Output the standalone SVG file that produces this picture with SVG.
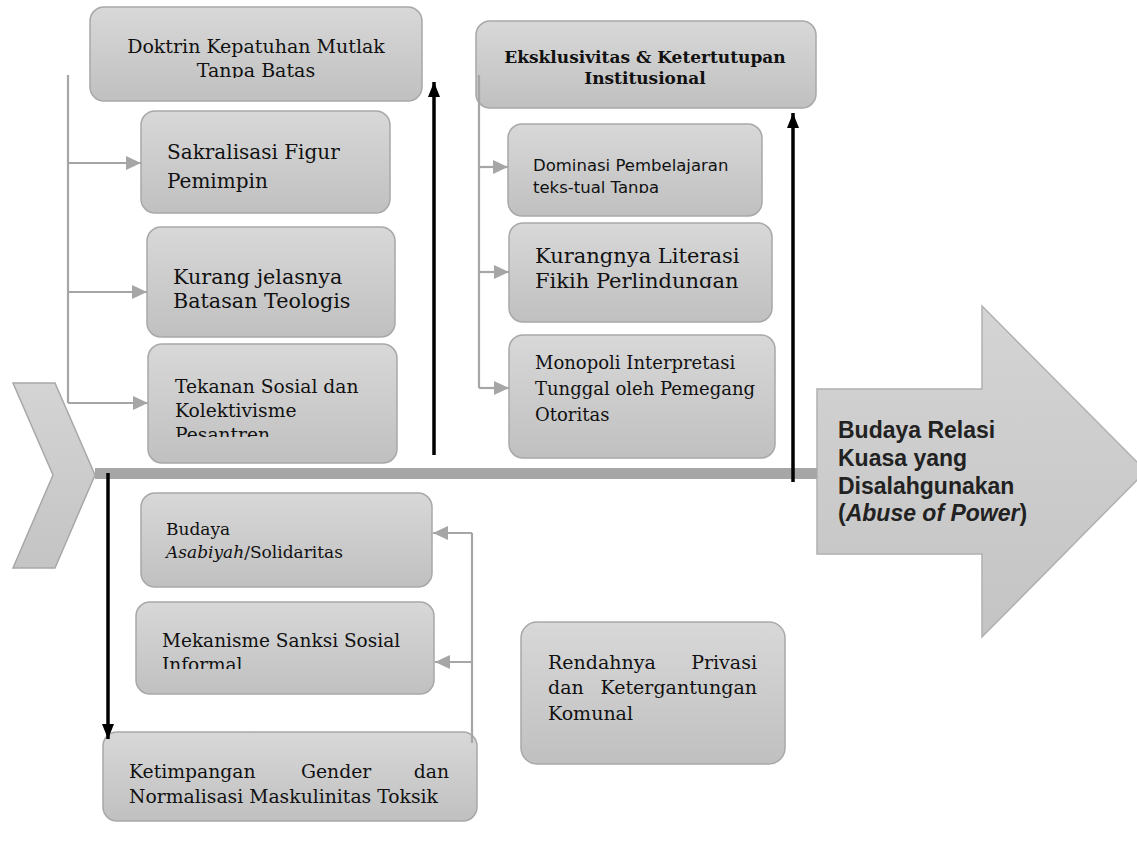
<svg xmlns="http://www.w3.org/2000/svg" width="1137" height="848" viewBox="0 0 1137 848">
<style>
.box{fill:url(#g);stroke:#a8a8a8;stroke-width:1.5}
.s{font-family:"DejaVu Serif","Liberation Serif",serif;fill:#111}
.ss{font-family:"DejaVu Sans","Liberation Sans",sans-serif;fill:#111}
.gl{fill:none;stroke:#a6a6a6;stroke-width:2.2}
.bl{fill:none;stroke:#000;stroke-width:3.5}
</style>
<defs>
<linearGradient id="g" x1="0" y1="0" x2="0" y2="1"><stop offset="0" stop-color="#d8d8d8"/><stop offset="1" stop-color="#c0c0c0"/></linearGradient>
<linearGradient id="g2" x1="0" y1="0" x2="0" y2="1"><stop offset="0" stop-color="#d4d4d4"/><stop offset="1" stop-color="#c4c4c4"/></linearGradient>
<marker id="ga" viewBox="0 0 15 14" refX="15" refY="7" markerWidth="15" markerHeight="14" markerUnits="userSpaceOnUse" orient="auto"><path d="M0,0L15,7L0,14Z" fill="#a6a6a6"/></marker>
<marker id="ba" viewBox="0 0 15 12" refX="15" refY="6" markerWidth="15" markerHeight="12" markerUnits="userSpaceOnUse" orient="auto"><path d="M0,0L15,6L0,12Z" fill="#000"/></marker>
<clipPath id="c1"><rect x="90" y="7" width="332" height="71"/></clipPath>
<clipPath id="c4"><rect x="148" y="344" width="249" height="93"/></clipPath>
<clipPath id="c5"><rect x="476" y="21" width="340" height="65"/></clipPath>
<clipPath id="c6"><rect x="508" y="124" width="254" height="69"/></clipPath>
<clipPath id="c7"><rect x="509" y="223" width="263" height="65"/></clipPath>
<clipPath id="c10"><rect x="136" y="602" width="298" height="67"/></clipPath>
</defs>
<rect width="1137" height="848" fill="#fff"/>

<g id="head">
<polygon points="817,389 982,389 982,306 1146,471 982,637 982,554 817,554" fill="url(#g2)" stroke="#b0b0b0" stroke-width="1.5"/>
<text font-family="'Liberation Sans',Arial,sans-serif" font-weight="bold" font-size="23" fill="#222">
<tspan x="838" y="438">Budaya Relasi</tspan>
<tspan x="838" y="466">Kuasa yang</tspan>
<tspan x="838" y="494">Disalahgunakan</tspan>
<tspan x="838" y="521">(<tspan font-style="italic">Abuse of Power</tspan>)</tspan>
</text>
</g>

<g id="tail">
<polygon points="13,383 55,383 95,475 55,568 13,568 53,475" fill="url(#g2)" stroke="#a8a8a8" stroke-width="1.5"/>
</g>

<g id="n1">
<rect class="box" x="90" y="7" width="332" height="94" rx="14"/>
<text class="s" font-size="19" text-anchor="middle" clip-path="url(#c1)"><tspan x="256" y="53">Doktrin Kepatuhan Mutlak</tspan><tspan x="256" y="77">Tanpa Batas</tspan></text>
</g>
<g id="n2">
<rect class="box" x="141" y="111" width="249" height="102" rx="14"/>
<text class="s" font-size="20"><tspan x="167" y="159">Sakralisasi Figur</tspan><tspan x="167" y="188">Pemimpin</tspan></text>
</g>
<g id="n3">
<rect class="box" x="147" y="227" width="248" height="110" rx="14"/>
<text class="s" font-size="20.7"><tspan x="173" y="284">Kurang jelasnya</tspan><tspan x="173" y="308">Batasan Teologis</tspan></text>
</g>
<g id="n4">
<rect class="box" x="148" y="344" width="249" height="119" rx="14"/>
<text class="s" font-size="18.7" clip-path="url(#c4)"><tspan x="175" y="393">Tekanan Sosial dan</tspan><tspan x="175" y="417">Kolektivisme</tspan><tspan x="175" y="441">Pesantren</tspan></text>
</g>

<g id="n5">
<rect class="box" x="476" y="21" width="340" height="87" rx="14"/>
<text class="s" font-size="17" font-weight="bold" text-anchor="middle" clip-path="url(#c5)"><tspan x="645" y="63">Eksklusivitas &amp; Ketertutupan</tspan><tspan x="645" y="84">Institusional</tspan></text>
</g>
<g id="n6">
<rect class="box" x="508" y="124" width="254" height="92" rx="14"/>
<text class="ss" font-size="16.5" clip-path="url(#c6)"><tspan x="533" y="171">Dominasi Pembelajaran</tspan><tspan x="533" y="193">teks-tual Tanpa</tspan></text>
</g>
<g id="n7">
<rect class="box" x="509" y="223" width="263" height="99" rx="14"/>
<text class="s" font-size="21" clip-path="url(#c7)"><tspan x="535" y="263">Kurangnya Literasi</tspan><tspan x="535" y="288">Fikih Perlindungan</tspan></text>
</g>
<g id="n8">
<rect class="box" x="509" y="335" width="266" height="123" rx="14"/>
<text class="s" font-size="18"><tspan x="535" y="369">Monopoli Interpretasi</tspan><tspan x="535" y="395">Tunggal oleh Pemegang</tspan><tspan x="535" y="421">Otoritas</tspan></text>
</g>

<g id="n9">
<rect class="box" x="141" y="493" width="291" height="94" rx="14"/>
<text class="s" font-size="17"><tspan x="166" y="535">Budaya</tspan><tspan x="166" y="558"><tspan font-style="italic">Asabiyah</tspan>/Solidaritas</tspan></text>
</g>
<g id="n10">
<rect class="box" x="136" y="602" width="298" height="92" rx="14"/>
<text class="s" font-size="18.5" clip-path="url(#c10)"><tspan x="162" y="647">Mekanisme Sanksi Sosial</tspan><tspan x="162" y="671">Informal</tspan></text>
</g>
<g id="n11">
<rect class="box" x="103" y="732" width="374" height="89" rx="14"/>
<text class="s" font-size="18.8"><tspan x="129" y="778">Ketimpangan</tspan><tspan x="301" y="778">Gender</tspan><tspan x="449" y="778" text-anchor="end">dan</tspan><tspan x="129" y="803">Normalisasi Maskulinitas Toksik</tspan></text>
</g>
<g id="n12">
<rect class="box" x="521" y="622" width="264" height="142" rx="16"/>
<text class="s" font-size="19"><tspan x="548" y="669">Rendahnya</tspan><tspan x="757" y="669" text-anchor="end">Privasi</tspan><tspan x="548" y="694">dan</tspan><tspan x="757" y="694" text-anchor="end">Ketergantungan</tspan><tspan x="548" y="720">Komunal</tspan></text>
</g>

<g id="connectors">
<line x1="95" y1="473.5" x2="817" y2="473.5" stroke="#a6a6a6" stroke-width="11"/>
<path class="gl" d="M68,75V403"/>
<path class="gl" d="M68,163H141" marker-end="url(#ga)"/>
<path class="gl" d="M68,292H147" marker-end="url(#ga)"/>
<path class="gl" d="M68,403H148" marker-end="url(#ga)"/>
<path class="gl" d="M479,75V388"/>
<path class="gl" d="M479,167H508" marker-end="url(#ga)"/>
<path class="gl" d="M479,272H509" marker-end="url(#ga)"/>
<path class="gl" d="M479,388H509" marker-end="url(#ga)"/>
<path class="gl" d="M472,743V533"/>
<path class="gl" d="M472,533H433" marker-end="url(#ga)"/>
<path class="gl" d="M472,662H435" marker-end="url(#ga)"/>
<path class="bl" d="M434,455V82" marker-end="url(#ba)"/>
<path class="bl" d="M793,482V113" marker-end="url(#ba)"/>
<path class="bl" d="M108,473V739" marker-end="url(#ba)"/>
</g>
</svg>
